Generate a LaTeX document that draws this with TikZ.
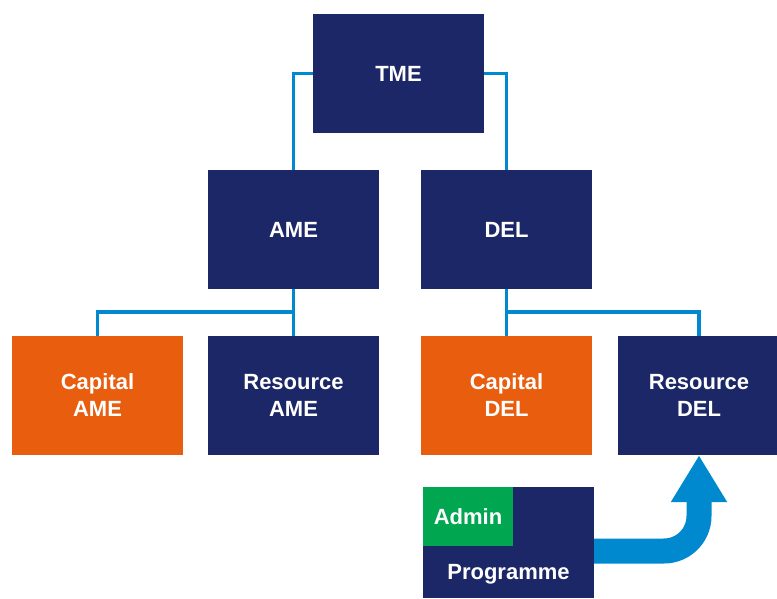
\documentclass[tikz,border=0pt]{standalone}
\usepackage{fontspec}
\setmainfont{Liberation Sans}
\usetikzlibrary{arrows.meta}
\definecolor{navy}{HTML}{1B2766}
\definecolor{orng}{HTML}{E95D0F}
\definecolor{grn}{HTML}{00A650}
\definecolor{lineblue}{HTML}{0089CF}

\begin{document}
\begin{tikzpicture}[x=1pt,y=-1pt,
        unit/.style={rectangle,fill=navy,text=white,font=\fontsize{22}{27}\selectfont\bfseries,
          align=center,minimum width=171pt,minimum height=119pt,inner sep=0pt},
        capital/.style={unit,fill=orng},
        link/.style={draw=lineblue,line width=3.5pt},
        bigarrow/.style={draw=lineblue,line width=25pt,rounded corners=35pt,
          -{Triangle[width=53pt,length=47pt]}}]

  \useasboundingbox (0,0) rectangle (777,599);

  \node[unit] (tme) at (398.5,73.5) {TME};
  \node[unit] (ame) at (293.5,229.5) {AME};
  \node[unit] (del) at (506.5,229.5) {DEL};
  \node[capital] (capame) at (97.5,395.5) {Capital\\AME};
  \node[unit] (resame) at (293.5,395.5) {Resource\\AME};
  \node[capital] (capdel) at (506.5,395.5) {Capital\\DEL};
  \node[unit,minimum width=162pt] (resdel) at (699,395.5) {Resource\\DEL};
  \node[unit,minimum height=111pt] (prog) at (508.5,542.5) {};
  \node[unit,fill=grn,minimum width=90pt,minimum height=59pt,anchor=north west]
    (admin) at (prog.north west) {Admin};
  \node[text=white,font=\fontsize{22}{27}\selectfont\bfseries,inner sep=0pt]
    (progtext) at (508.5,574) {Programme};

  \draw[link] (tme.west) -| (ame.north);
  \draw[link] (tme.east) -| (del.north);
  \draw[link] (ame.south) -- (resame.north);
  \draw[link] (ame.south) ++(0,23) -| (capame.north);
  \draw[link] (del.south) -- (capdel.north);
  \draw[link] (del.south) ++(0,23) -| (resdel.north);

  \draw[bigarrow] ([yshift=-8.5pt]prog.east) -| (resdel.south);

\end{tikzpicture}
\end{document}
